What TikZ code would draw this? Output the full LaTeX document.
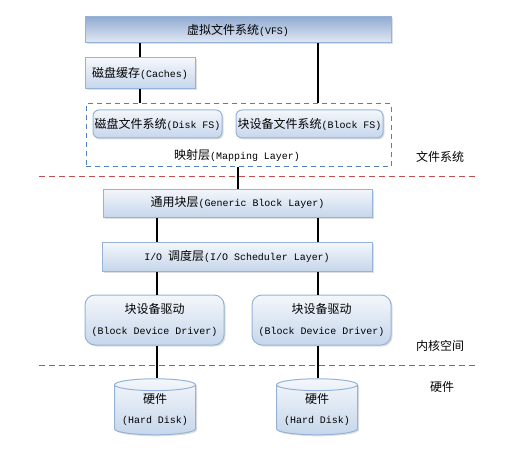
\documentclass[tikz,border=0pt]{standalone}
\usepackage{fontspec}
\setmainfont{Liberation Mono}[Scale=0.83]
\newfontfamily\cjk{Noto Sans CJK SC}
\usetikzlibrary{shapes.geometric,shadows}

\definecolor{boxline}{HTML}{95B3D7}
\definecolor{boxtop}{HTML}{F4F7FB}
\definecolor{boxbot}{HTML}{C6D6EB}
\definecolor{vfstop}{HTML}{93ACD3}
\definecolor{vfsbot}{HTML}{E2E9F4}
\definecolor{mapline}{HTML}{4F81BD}
\definecolor{sepline}{HTML}{C0504D}

\tikzset{
  layerbox/.style={draw=boxline, line width=1pt, top color=boxtop, bottom color=boxbot,
    drop shadow={shadow xshift=1.5pt, shadow yshift=-1.5pt, opacity=0.25},
    inner sep=0pt, font=\fontsize{12}{14}\selectfont},
  fsbox/.style={layerbox, rounded corners=6pt},
  drvbox/.style={layerbox, rounded corners=10pt, align=center,
    font=\fontsize{12}{21}\selectfont},
  diskbox/.style={layerbox, cylinder, shape border rotate=90, aspect=0.18,
    align=center, font=\fontsize{12}{20}\selectfont},
  maplayer/.style={draw=mapline, line width=1pt, dash pattern=on 5pt off 4pt},
  sep/.style={draw=sepline, line width=1pt, dash pattern=on 6pt off 4pt},
  link/.style={line width=2pt},
  zone/.style={font=\fontsize{12}{14}\selectfont}
}

\begin{document}
\begin{tikzpicture}[x=1pt, y=-1pt]
    \useasboundingbox (0,0) rectangle (510,454);

    % Nodes
    \coordinate (colL) at (157,0);
    \coordinate (colR) at (318,0);
    \node[layerbox, minimum width=306, minimum height=26, top color=vfstop, bottom color=vfsbot] at (238,30) (vfs) {{\cjk 虚拟文件系统}(VFS)};
    \node[layerbox, minimum width=110, minimum height=31] at (140,73.5) (cache) {{\cjk 磁盘缓存}(Caches)};
    \node[maplayer, minimum width=305, minimum height=63] at (238.5,135.5) (map) {};
    \node[fsbox, minimum width=129, minimum height=28] at (157.5,124) (diskfs) {{\cjk 磁盘文件系统}(Disk FS)};
    \node[fsbox, minimum width=147, minimum height=28] at (309.5,124) (blockfs) {{\cjk 块设备文件系统}(Block FS)};
    \node[zone] at (237,155) (maptext) {{\cjk 映射层}(Mapping Layer)};

    \node[layerbox, minimum width=269, minimum height=28] at (237.5,203) (generic) {{\cjk 通用块层}(Generic Block Layer)};
    \node[layerbox, minimum width=270, minimum height=29] at (237,256.5) (iosched) {I/O {\cjk 调度层}(I/O Scheduler Layer)};

    \node[drvbox, minimum width=139, minimum height=50] at (154.5,320) (drvL) {{\cjk 块设备驱动}\\(Block Device Driver)};
    \node[drvbox, minimum width=139, minimum height=50] at (321.5,320) (drvR) {{\cjk 块设备驱动}\\(Block Device Driver)};

    \node[diskbox, minimum width=81, minimum height=56] at (155,410) (diskL) {{\cjk 硬件}\\(Hard Disk)};
    \node[diskbox, minimum width=81, minimum height=56] at (317,410) (diskR) {{\cjk 硬件}\\(Hard Disk)};

    \node[zone] at (440,157) (fszone) {\cjk 文件系统};
    \node[zone] at (440,346) (kernzone) {\cjk 内核空间};
    \node[zone] at (442,387) (hwzone) {\cjk 硬件};

    \coordinate (sepAL) at (39,177);
    \coordinate (sepAR) at (475,177);
    \coordinate (sepBL) at (39,365);
    \coordinate (sepBR) at (475,365);

    % Edges
    \draw[link] (cache.north) -- (cache.north |- vfs.south);
    \draw[link] (cache.south) -- (cache.south |- map.north);
    \draw[link] (vfs.south -| colR) -- (map.north -| colR);
    \draw[link] (map.south -| generic) -- (generic.north);
    \draw[link] (generic.south -| colL) -- (iosched.north -| colL);
    \draw[link] (generic.south -| colR) -- (iosched.north -| colR);
    \draw[link] (iosched.south -| colL) -- (drvL.north -| colL);
    \draw[link] (iosched.south -| colR) -- (drvR.north -| colR);
    \draw[link] (drvL.south -| colL) -- (diskL.north -| colL);
    \draw[link] (drvR.south -| colR) -- (diskR.north -| colR);

    \draw[sep] (sepAL) -- (sepAR);
    \draw[sep] (sepBL) -- (sepBR);
\end{tikzpicture}
\end{document}
